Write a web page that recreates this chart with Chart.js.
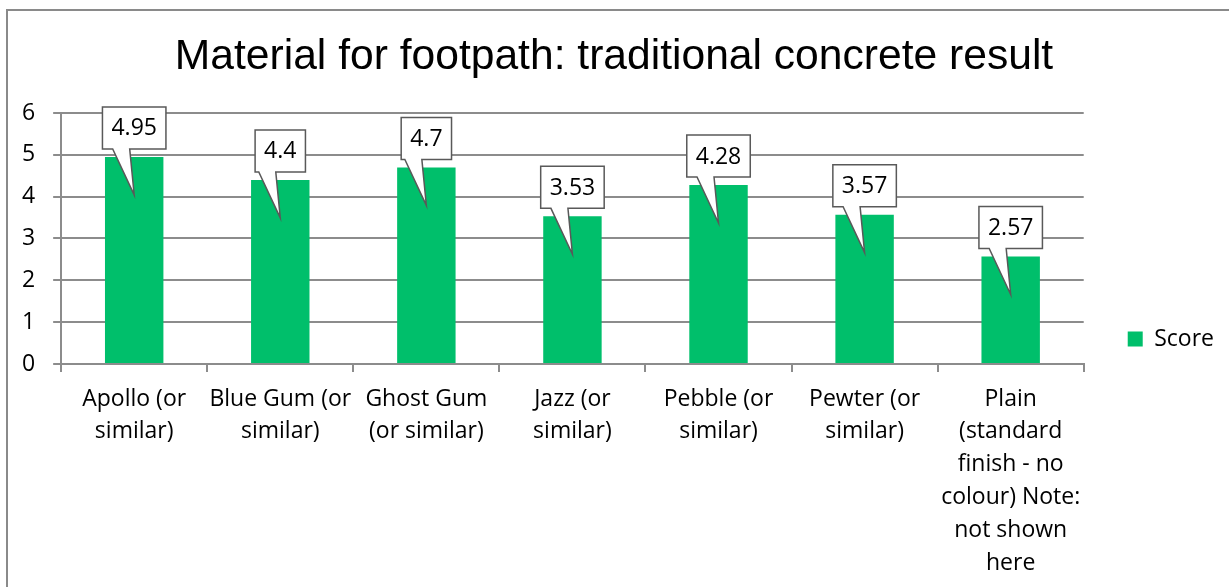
<!DOCTYPE html>
<html>
<head>
<meta charset="utf-8">
<script src="https://cdn.jsdelivr.net/npm/chart.js@4.4.1/dist/chart.umd.min.js"></script>
<style>
  html, body { margin: 0; padding: 0; background: #fff; }
  #wrap { width: 1229px; height: 587px; overflow: hidden; }
</style>
</head>
<body>
<div id="wrap"><canvas id="bar" width="1229" height="587"></canvas></div>
<script>
const categories = [
  ["Apollo (or", "similar)"],
  ["Blue Gum (or", "similar)"],
  ["Ghost Gum", "(or similar)"],
  ["Jazz (or", "similar)"],
  ["Pebble (or", "similar)"],
  ["Pewter (or", "similar)"],
  ["Plain", "(standard", "finish - no", "colour) Note:", "not shown", "here"],
];
const scores = [4.95, 4.4, 4.7, 3.53, 4.28, 3.57, 2.57];
const scoreLabels = ["4.95", "4.4", "4.7", "3.53", "4.28", "3.57", "2.57"];

const FONT = "'Open Sans', 'Noto Sans', sans-serif";
const GRID = "#8c8c8c";

// outer frame of the chart object (only top and left edge are visible)
const framePlugin = {
  id: "frame",
  beforeDraw(chart) {
    const ctx = chart.ctx;
    ctx.save();
    ctx.strokeStyle = "#8a8a8a";
    ctx.lineWidth = 2;
    ctx.beginPath();
    ctx.moveTo(7, chart.height);
    ctx.lineTo(7, 10);
    ctx.lineTo(chart.width, 10);
    ctx.stroke();
    ctx.restore();
  },
};

// speech bubble style data labels
const calloutPlugin = {
  id: "callout",
  afterDatasetsDraw(chart) {
    const ctx = chart.ctx;
    const meta = chart.getDatasetMeta(0);
    ctx.save();
    ctx.font = "23px " + FONT;
    meta.data.forEach((bar, i) => {
      const text = scoreLabels[i];
      const w = ctx.measureText(text).width + 18;
      const h = 42;
      const cx = bar.x;
      const bottom = bar.y - 8;
      const top = bottom - h;
      const left = cx - w / 2;
      const right = cx + w / 2;
      ctx.beginPath();
      ctx.moveTo(left, top);
      ctx.lineTo(right, top);
      ctx.lineTo(right, bottom);
      ctx.lineTo(cx - 4.5, bottom);
      ctx.lineTo(cx, bar.y + 38);
      ctx.lineTo(cx - 21.5, bottom);
      ctx.lineTo(left, bottom);
      ctx.closePath();
      ctx.fillStyle = "#fff";
      ctx.fill();
      ctx.strokeStyle = "#595959";
      ctx.lineWidth = 1.5;
      ctx.stroke();
      ctx.fillStyle = "#000";
      ctx.textAlign = "center";
      ctx.textBaseline = "middle";
      ctx.fillText(text, cx, top + h / 2 + 1);
    });
    ctx.restore();
  },
};

new Chart(document.getElementById("bar"), {
  type: "bar",
  data: {
    labels: categories,
    datasets: [
      {
        label: "Score",
        data: scores,
        backgroundColor: "#00BF6B",
        borderWidth: 0,
        categoryPercentage: 1,
        barPercentage: 0.4,
      },
    ],
  },
  options: {
    responsive: false,
    animation: false,
    events: [],
    layout: {
      padding: { left: 4, right: 5, top: 0, bottom: -3.5 },
    },
    scales: {
      x: {
        grid: {
          offset: true,
          drawOnChartArea: false,
          drawTicks: true,
          tickLength: 8,
          color: GRID,
          lineWidth: 2,
        },
        border: { color: GRID, width: 2 },
        ticks: {
          color: "#000",
          font: { family: FONT, size: 23, lineHeight: 1.43 },
          padding: 10.6,
          maxRotation: 0,
          autoSkip: false,
        },
      },
      y: {
        min: 0,
        max: 6,
        ticks: {
          stepSize: 1,
          color: "#000",
          font: { family: FONT, size: 23 },
          padding: 18,
        },
        grid: { color: GRID, lineWidth: 2, tickLength: 8 },
        border: { color: GRID, width: 2 },
      },
    },
    plugins: {
      title: {
        display: true,
        text: "Material for footpath: traditional concrete result",
        color: "#000",
        font: { family: "'Liberation Sans', Arial, sans-serif", size: 42.6, weight: "normal" },
        padding: { top: 31.4, bottom: 30.5 },
      },
      legend: {
        position: "right",
        align: "start",
        // empty legend title only pushes the single entry down beside the plot
        title: { display: true, text: "", font: { size: 10 }, padding: { top: 271.5, bottom: 0 } },
        labels: {
          color: "#000",
          font: { family: FONT, size: 23 },
          boxWidth: 15,
          boxHeight: 15,
          padding: 44,
        },
      },
      tooltip: { enabled: false },
    },
  },
  plugins: [framePlugin, calloutPlugin],
});
</script>
</body>
</html>
